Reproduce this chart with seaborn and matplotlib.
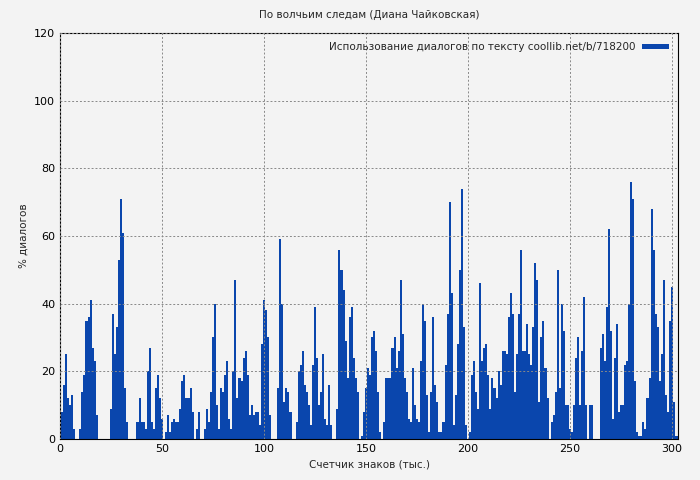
import numpy as np
import pandas as pd
import matplotlib
matplotlib.use("Agg")
import matplotlib.pyplot as plt
import seaborn as sns

values = (
    [13,8,16,25,12,10,13,3,0,0,3,14,19,35,36,41,27,23,7,0,0,0,0,0,0]
    + [9,37,25,33,53,71,61,15,5,0,0,0,0]
    + [5,12,5,5,3,20,27,5,3,15,19,12,6]
    + [0,2,7,2,5,6,5,5]
    + [9,17,19,12,12,15,8,0,3,8, 0,0,3,9,5,14,30,40,10,3, 15,14,19,23,6,3,20,47,12,18,
       17,24,26,19,7,10,7,8,8,4, 28]
    + [41,38,30,7]
    + [0,0,0]
    + [15,59,40,11,15,14,8,0,0,5, 20,22,26,16,14,10,4,22,39,24, 10,14,25,6,4,16,4,0,0,9,
       56,50,44,29,18,36,39,24,18,14, 0,1,8,15,21,19]
    + [30,32,26,14,2,0,5,18,18,18, 27,30,21,26,47,31,18,14,6,5, 21,10,6,5,23,40,35,13,2,14,
       36,16,11,2,2,5,22,37,70,43, 4,13,28,50,74,33,4,0,2,19, 23]
    + [14,9,46,23,27,28,19,9,18,15, 12,20,16,26,26,25,36,43,37,14, 25,37,56,26,26,34,25,22,33,52,
       47,11,30,35,21,12,0,5,7,14, 50,15,40,32,10,10,3,2,10,24, 30]
    + [10,26,42,10,0,10,10,0,0,0, 27,31,23,39,62,32,6,24,34,8, 10,10,22,23,40,76,71,17,2,1,
       1,5,3,12,18,68,56,37,33,17, 25,47,13,8,35,45,11,1,1]
)
positions = list(range(len(values)))
xticks = [0, 50, 100, 150, 200, 250, 300]
yticks = [0, 20, 40, 60, 80, 100, 120]

title = "По волчьим следам (Диана Чайковская)"
legend_label = "Использование диалогов по тексту coollib.net/b/718200"

sns.set_theme(style="white")
plt.rcParams['font.family'] = ['DejaVu Sans']
bg = "#f3f3f3"
fig = plt.figure(figsize=(7, 4.8), dpi=100, facecolor=bg)
ax = fig.add_axes([0.0857, 0.0854, 0.883, 0.846])
ax.set_facecolor(bg)

df = pd.DataFrame({"x": positions, "y": values})
sns.barplot(data=df, x="x", y="y", native_scale=True, width=1.0,
            color="#0a46ad", saturation=1, linewidth=0, label=legend_label, ax=ax)

ax.set_xlim(0, 303)
ax.set_ylim(0, 120)
ax.set_xticks(xticks)
ax.set_yticks(yticks)
ax.tick_params(labelsize=8, length=3, direction="in", colors="black")
ax.grid(True, color="#888888", linestyle=(0, (2, 2)), linewidth=0.7)
ax.set_axisbelow(False)
for s in ax.spines.values():
    s.set_color("black"); s.set_linewidth(0.8)
ax.set_title(title, fontsize=7.5, pad=11)
ax.set_xlabel("Счетчик знаков (тыс.)", fontsize=7.5)
ax.set_ylabel("% диалогов", fontsize=7.5)
ax.legend(loc="upper right", frameon=False, fontsize=7.5, handlelength=2.6,
          handleheight=0.4, borderaxespad=0.5, markerfirst=False, handletextpad=0.6)
fig.savefig("out.png", dpi=100, facecolor=bg)
